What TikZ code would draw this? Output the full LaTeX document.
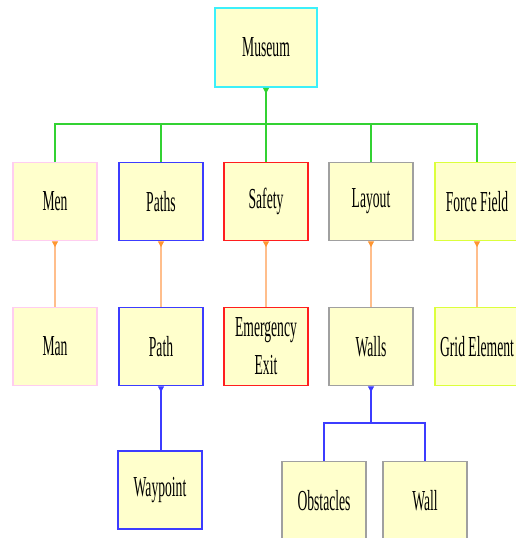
\documentclass[tikz,border=0pt]{standalone}
\usepackage{fontspec}
\setmainfont{Liberation Serif}[FakeStretch=0.47]
\usetikzlibrary{arrows.meta}
\definecolor{boxfill}{RGB}{255,255,204}
\definecolor{ccyan}{RGB}{60,240,250}
\definecolor{cpink}{RGB}{255,205,240}
\definecolor{cblue}{RGB}{60,60,255}
\definecolor{cred}{RGB}{255,30,30}
\definecolor{cgray}{RGB}{160,160,160}
\definecolor{cyg}{RGB}{220,255,60}
\definecolor{cgreen}{RGB}{50,210,50}
\definecolor{corange}{RGB}{255,190,140}
\definecolor{corangetip}{RGB}{255,150,50}
\tikzset{
  box/.style={draw, fill=boxfill, line width=1.5pt, minimum width=84pt, minimum height=78pt, inner sep=0pt, align=center,
    font=\fontsize{29}{38}\selectfont},
  greenlink/.style={draw=cgreen, line width=1.2pt},
  orangelink/.style={draw=corange, line width=1.2pt, {Triangle[reversed,width=6pt,length=6pt,fill=corangetip,color=corangetip]}-},
  bluelink/.style={draw=cblue, line width=1.2pt},
}
\begin{document}
\begin{tikzpicture}[x=1pt,y=-1pt]
\useasboundingbox (0,0) rectangle (515,538);
\node[box, draw=ccyan, minimum width=102pt, minimum height=79pt] (museum) at (266,47.5) {Museum};
\node[box, draw=cpink] (men) at (55,201.5) {Men};
\node[box, draw=cblue] (paths) at (161,201.5) {Paths};
\node[box, draw=cred] (safety) at (266,201.5) {Safety};
\node[box, draw=cgray] (layout) at (371,201.5) {Layout};
\node[box, draw=cyg] (ff) at (477,201.5) {Force Field};
\node[box, draw=cpink] (man) at (55,346.5) {Man};
\node[box, draw=cblue] (path) at (161,346.5) {Path};
\node[box, draw=cred] (exit) at (266,346.5) {Emergency\\Exit};
\node[box, draw=cgray] (walls) at (371,346.5) {Walls};
\node[box, draw=cyg] (grid) at (477,346.5) {Grid Element};
\node[box, draw=cblue] (waypoint) at (160,490) {Waypoint};
\node[box, draw=cgray] (obst) at (324,500.5) {Obstacles};
\node[box, draw=cgray] (wall) at (425,500.5) {Wall};
\coordinate (bus) at (266,124);
\coordinate (wbus) at (371,423);
% green tree
\draw[greenlink, {Triangle[reversed,width=6pt,length=6pt]}-] (museum.south) -- (museum.south |- bus);
\foreach \c in {men,paths,safety,layout,ff}
  \draw[greenlink] (museum.south |- bus) -| (\c.north);
% orange links
\draw[orangelink] (men.south) -- (man.north);
\draw[orangelink] (paths.south) -- (path.north);
\draw[orangelink] (safety.south) -- (exit.north);
\draw[orangelink] (layout.south) -- (walls.north);
\draw[orangelink] (ff.south) -- (grid.north);
% blue links
\draw[bluelink, {Triangle[reversed,width=6pt,length=6pt]}-] (path.south) -- (waypoint.north -| path.south);
\draw[bluelink, {Triangle[reversed,width=6pt,length=6pt]}-] (walls.south) -- (walls.south |- wbus);
\draw[bluelink] (walls.south |- wbus) -| (obst.north);
\draw[bluelink] (walls.south |- wbus) -| (wall.north);
\end{tikzpicture}
\end{document}
